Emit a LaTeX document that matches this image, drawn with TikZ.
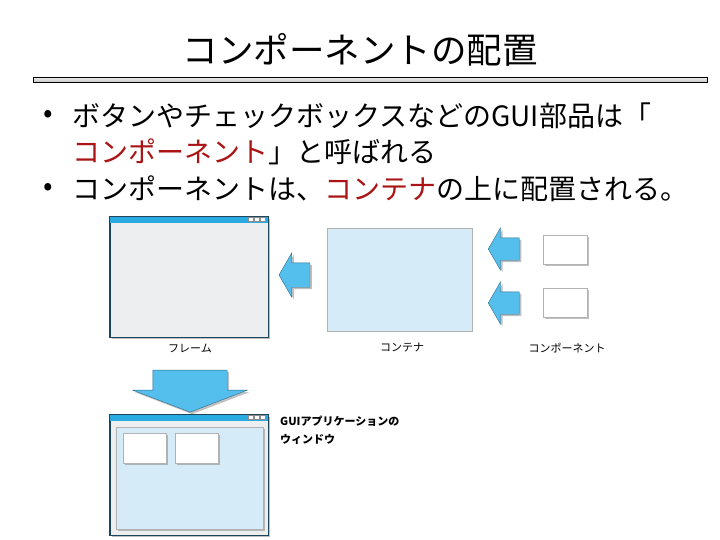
\documentclass[tikz,border=0pt]{standalone}
\usepackage{fontspec}
\setmainfont{Noto Sans CJK JP}
\usetikzlibrary{shapes.arrows,shadows,positioning}

\definecolor{barblue}{RGB}{41,171,226}
\definecolor{arrowblue}{RGB}{84,190,236}
\definecolor{arrowedge}{RGB}{45,110,140}
\definecolor{winedge}{RGB}{30,70,90}
\definecolor{framegray}{RGB}{237,238,239}
\definecolor{paneblue}{RGB}{214,235,248}
\definecolor{keyred}{RGB}{170,20,20}

\tikzset{
  shade/.style={drop shadow={shadow xshift=2pt,shadow yshift=-2pt,fill=black!50,opacity=.5}},
  window/.style={rectangle,draw=winedge,line width=.9pt,fill=framegray,inner sep=0,shade},
  pane/.style={rectangle,draw=black!30,fill=paneblue,line width=.6pt,inner sep=0},
  part/.style={rectangle,draw=black!30,fill=white,line width=.5pt,inner sep=0,minimum width=44,minimum height=29,shade},
  blockarrow/.style={single arrow,draw=arrowedge,line width=.4pt,fill=arrowblue,inner sep=0,shade},
  bodytext/.style={anchor=west,inner sep=0,font=\fontsize{28}{32}\selectfont},
  caption/.style={inner sep=0,font=\fontsize{11}{13}\selectfont}
}

% title bar of a window: blue strip, three buttons, outline on top
\newcommand{\winbar}[1]{%
  \fill[barblue] (#1.north west) rectangle ([yshift=-6pt]#1.north east);
  \foreach \i in {0,1,2}
    \draw[black!45,fill=white,line width=.4pt] ([xshift=(-20+6*\i)*1pt,yshift=-1pt]#1.north east) rectangle +(5,4);
  \draw[winedge,line width=.9pt] (#1.north west) rectangle (#1.south east);
}

\begin{document}
\begin{tikzpicture}[x=1pt,y=-1pt]
  \useasboundingbox (0,0) rectangle (720,540);

  \node (title) at (360,50) {\fontsize{35.5}{40}\selectfont コンポーネントの配置};
  \node (rule) [rectangle,draw,line width=1pt,top color=black!10,bottom color=black!25,
    minimum width=674,minimum height=5,inner sep=0] at (370,80.5) {};

  \node (dot1) [bodytext] at (43,116) {•};
  \node (line1) [bodytext] at (72,116) {ボタンやチェックボックスなどのGUI部品は「};
  \node (line2) [bodytext] at (72,152) {\textcolor{keyred}{コンポーネント}」と呼ばれる};
  \node (dot2) [bodytext] at (43,189) {•};
  \node (line3) [bodytext] at (72,189) {コンポーネントは、\textcolor{keyred}{コンテナ}の上に配置される。};

  % upper row
  \node (frame) [window,minimum width=158,minimum height=120] at (189,277) {};
  \winbar{frame}
  \node (toframe) [blockarrow,shape border rotate=180,single arrow tip angle=120,inner ysep=12pt,
    single arrow head extend=10,minimum height=31,minimum width=44] at (298,275) {};
  \node (cont) [pane,minimum width=145,minimum height=103] at (399.5,279.5) {};
  \node (tocont1) [blockarrow,shape border rotate=180,single arrow tip angle=120,inner ysep=11pt,
    single arrow head extend=10,minimum height=31,minimum width=42] at (507,249) {};
  \node (tocont2) [blockarrow,shape border rotate=180,single arrow tip angle=120,inner ysep=11pt,
    single arrow head extend=10,minimum height=31,minimum width=42] at (507,303) {};
  \node (comp1) [part] at (565,249.5) {};
  \node (comp2) [part] at (565,302.5) {};

  \node (framelbl) [caption] at (190,348) {フレーム};
  \node (contlbl) [caption] at (402,348) {コンテナ};
  \node (complbl) [caption] at (567,348) {コンポーネント};

  % lower row
  \node (down) [blockarrow,shape border rotate=270,single arrow tip angle=138,inner xsep=37pt,
    single arrow head extend=20,minimum height=42,minimum width=114] at (190,384) {};
  \node (win) [window,minimum width=158,minimum height=120] at (189,475) {};
  \winbar{win}
  \node (winpane) [pane,minimum width=147,minimum height=102,shade] at (189.5,478) {};
  \node (wpart1) [part,minimum width=43,minimum height=30] at (144.5,448) {};
  \node (wpart2) [part,minimum width=43,minimum height=30] at (196.5,448) {};

  \node (winlbl) [caption,anchor=west,align=left] at (280,430)
    {\bfseries GUIアプリケーションの\\[5pt]\bfseries ウィンドウ};
\end{tikzpicture}
\end{document}
